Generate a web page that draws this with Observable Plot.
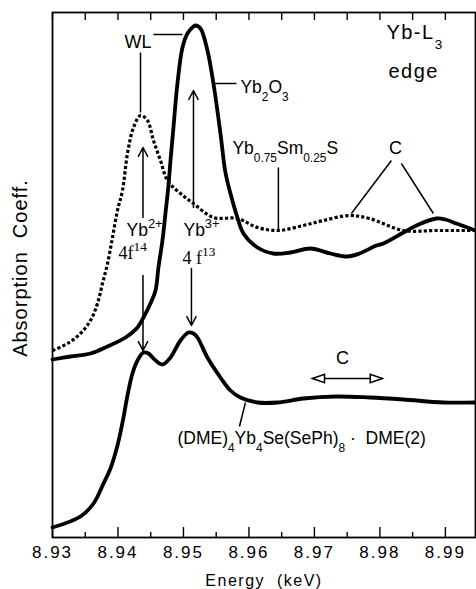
<!DOCTYPE html>
<html><head><meta charset="utf-8">
<script src="https://cdn.jsdelivr.net/npm/d3@7"></script>
<script src="https://cdn.jsdelivr.net/npm/@observablehq/plot@0.6"></script>
<style>
html,body{margin:0;padding:0;background:#fff;}
#chart svg{display:block;}
</style></head><body><div id="chart"></div>
<script>
// ---- data (energy in keV, absorption in arbitrary units) ----
const energyYb2O3 = [8.93000, 8.93275, 8.93580, 8.93840, 8.94115, 8.94298, 8.94389, 8.94496, 8.94573, 8.94618, 8.94679, 8.94725, 8.94771, 8.94802, 8.94847, 8.94908, 8.94985, 8.95061, 8.95153, 8.95183, 8.95260, 8.95366, 8.95458, 8.95565, 8.95641, 8.95718, 8.95824, 8.95916, 8.96130, 8.96374, 8.96634, 8.96939, 8.97244, 8.97504, 8.97687, 8.97947, 8.98053, 8.98359, 8.98557, 8.98863, 8.99000, 8.99168, 8.99458];
const absYb2O3 = [1.78, 1.81, 1.84, 1.91, 2.00, 2.10, 2.20, 2.34, 2.47, 2.70, 2.97, 3.24, 3.52, 3.77, 4.10, 4.54, 4.90, 5.04, 5.11, 5.12, 5.09, 4.87, 4.54, 4.04, 3.65, 3.44, 3.20, 3.04, 2.90, 2.84, 2.85, 2.89, 2.84, 2.81, 2.84, 2.92, 2.94, 3.05, 3.12, 3.19, 3.18, 3.14, 3.07];

const energyYbSmS = [8.93000, 8.93229, 8.93427, 8.93580, 8.93687, 8.93763, 8.93840, 8.93916, 8.93992, 8.94069, 8.94145, 8.94237, 8.94344, 8.94450, 8.94542, 8.94649, 8.94756, 8.94954, 8.95153, 8.95458, 8.95824, 8.96130, 8.96450, 8.96832, 8.97137, 8.97534, 8.97840, 8.98359, 8.98863, 8.99458];
const absYbSmS = [1.87, 1.94, 2.04, 2.17, 2.34, 2.54, 2.74, 3.00, 3.27, 3.47, 3.84, 4.10, 4.22, 4.17, 3.97, 3.77, 3.57, 3.44, 3.34, 3.20, 3.19, 3.10, 3.07, 3.12, 3.17, 3.22, 3.19, 3.07, 3.07, 3.07];

const energyDME = [8.93000, 8.93427, 8.93626, 8.93779, 8.93885, 8.93992, 8.94084, 8.94145, 8.94221, 8.94298, 8.94389, 8.94466, 8.94542, 8.94679, 8.94802, 8.94954, 8.95076, 8.95153, 8.95214, 8.95366, 8.95565, 8.95718, 8.95870, 8.96130, 8.96435, 8.96832, 8.97336, 8.97840, 8.98359, 8.98969, 8.99458];
const absDME = [0.10, 0.21, 0.34, 0.54, 0.69, 0.92, 1.20, 1.42, 1.64, 1.77, 1.85, 1.84, 1.79, 1.73, 1.80, 1.97, 2.05, 2.04, 2.00, 1.80, 1.60, 1.47, 1.40, 1.35, 1.35, 1.39, 1.41, 1.40, 1.38, 1.35, 1.35];

const majorTicks = [8.93, 8.94, 8.95, 8.96, 8.97, 8.98, 8.99];
const minorTicks = [8.935, 8.945, 8.955, 8.965, 8.975, 8.985];
const tickLabels = ["8.93", "8.94", "8.95", "8.96", "8.97", "8.98", "8.99"];
const xTitle = "Energy  (keV)";
const yTitle = "Absorption  Coeff.";

// annotation texts anchored in data units (x: keV, y: absorption)
const labelsCentered = [
  {text: "WL", x: 8.94305, y: 4.90},
  {text: "C", x: 8.98237, y: 3.84},
  {text: "C", x: 8.97427, y: 1.74}
];
const labelsStart = [
  {text: "Yb^{2+}", x: 8.94130, y: 3.02},
  {text: "Yb^{3+}", x: 8.95000, y: 3.02},
  {text: "Yb_{2}O_{3}", x: 8.95870, y: 4.45},
  {text: "Yb_{0.75}Sm_{0.25}S", x: 8.95748, y: 3.84},
  {text: "(DME)_{4}Yb_{4}Se(SePh)_{8} ·  DME(2)", x: 8.94908, y: 0.94}
];
const labelsSerif = [
  {text: "4f^{14}", x: 8.94008, y: 2.79},
  {text: "4 f^{13}", x: 8.94985, y: 2.74}
];
const labelsEdge = [
  {text: "Yb-L_{3}", x: 8.98099, y: 4.99},
  {text: "edge", x: 8.98130, y: 4.60}
];
const leaderLines = [
  {x1: 8.94344, y1: 4.85, x2: 8.94344, y2: 4.25},
  {x1: 8.94542, y1: 5.03, x2: 8.94985, y2: 5.03},
  {x1: 8.95458, y1: 4.54, x2: 8.95809, y2: 4.54},
  {x1: 8.96450, y1: 3.70, x2: 8.96450, y2: 3.07},
  {x1: 8.98176, y1: 3.77, x2: 8.97565, y2: 3.24},
  {x1: 8.98328, y1: 3.74, x2: 8.98817, y2: 3.24},
  {x1: 8.95947, y1: 1.35, x2: 8.95855, y2: 1.11}
];
const arrows = [
  {x1: 8.94382, y1: 3.20, x2: 8.94382, y2: 3.90},
  {x1: 8.94382, y1: 2.62, x2: 8.94382, y2: 1.87},
  {x1: 8.95153, y1: 3.30, x2: 8.95153, y2: 4.47},
  {x1: 8.95122, y1: 2.69, x2: 8.95122, y2: 2.12}
];
const doubleArrow = {x1: 8.96969, x2: 8.98038, y: 1.59};

// ---- helpers ----
const rows = (xs, ys) => xs.map((x, i) => ({x, y: ys[i]}));
const SANS = '"Liberation Sans", Arial, Helvetica, sans-serif';
const SERIF = '"Liberation Serif", "Times New Roman", serif';
const openHead = {
  draw(ctx, size) {
    const r = Math.sqrt(size / Math.PI);
    ctx.moveTo(0, -1.6 * r);
    ctx.lineTo(0.95 * r, 1.1 * r);
    ctx.lineTo(-0.95 * r, 1.1 * r);
    ctx.closePath();
  }
};

const svg = Plot.plot({
  width: 476,
  height: 589,
  marginTop: 12,
  marginBottom: 52,
  marginLeft: 52,
  marginRight: 1,
  x: {domain: [8.93, 8.9946], axis: null},
  y: {domain: [0, 5.25], axis: null},
  style: {fontFamily: SANS, background: "white", color: "black", overflow: "visible"},
  marks: [
    // ticks (inward)
    Plot.axisX(majorTicks, {anchor: "bottom", tickSize: -10, tickFormat: () => "", label: null, strokeWidth: 1.4}),
    Plot.axisX(minorTicks, {anchor: "bottom", tickSize: -5, tickFormat: () => "", label: null, strokeWidth: 1.4}),
    Plot.axisX(majorTicks.concat(minorTicks), {anchor: "top", tickSize: -7, tickFormat: () => "", label: null, strokeWidth: 1.4}),
    Plot.frame({stroke: "black", strokeWidth: 1.8}),
    // tick labels and titles
    Plot.text(majorTicks, {x: d => d, frameAnchor: "bottom", lineAnchor: "bottom", dy: 20, text: (d, i) => tickLabels[i], fontSize: 17}),
    Plot.text([xTitle], {frameAnchor: "bottom", lineAnchor: "bottom", textAnchor: "middle", dy: 48, fontSize: 16}),
    Plot.text([yTitle], {frameAnchor: "left", textAnchor: "middle", lineAnchor: "middle", rotate: -90, dx: -32, dy: -7, fontSize: 20}),
    // curves
    Plot.line(rows(energyYbSmS, absYbSmS), {x: "x", y: "y", curve: "catmull-rom", stroke: "black", strokeWidth: 3.2, strokeDasharray: "3.2,2.2", strokeLinecap: "butt"}),
    Plot.line(rows(energyYb2O3, absYb2O3), {x: "x", y: "y", curve: "catmull-rom", stroke: "black", strokeWidth: 3.8}),
    Plot.line(rows(energyDME, absDME), {x: "x", y: "y", curve: "catmull-rom", stroke: "black", strokeWidth: 3.8}),
    // annotations
    Plot.link(leaderLines, {x1: "x1", y1: "y1", x2: "x2", y2: "y2", stroke: "black", strokeWidth: 1.5}),
    Plot.arrow(arrows, {x1: "x1", y1: "y1", x2: "x2", y2: "y2", stroke: "black", strokeWidth: 1.5, headLength: 10, headAngle: 55}),
    Plot.link([doubleArrow], {x1: "x1", x2: "x2", y1: "y", y2: "y", stroke: "black", strokeWidth: 1.5}),
    Plot.dot([doubleArrow], {x: "x1", y: "y", symbol: openHead, r: 4.5, rotate: -90, dx: 7.2, fill: "white", stroke: "black", strokeWidth: 1.5}),
    Plot.dot([doubleArrow], {x: "x2", y: "y", symbol: openHead, r: 4.5, rotate: 90, dx: -7.2, fill: "white", stroke: "black", strokeWidth: 1.5}),
    Plot.text(labelsCentered, {x: "x", y: "y", text: "text", textAnchor: "middle", lineAnchor: "bottom", fontSize: 18}),
    Plot.text(labelsStart, {x: "x", y: "y", text: "text", textAnchor: "start", lineAnchor: "bottom", fontSize: 17.5}),
    Plot.text(labelsSerif, {x: "x", y: "y", text: "text", textAnchor: "start", lineAnchor: "bottom", fontSize: 18, fontFamily: SERIF}),
    Plot.text(labelsEdge, {x: "x", y: "y", text: "text", textAnchor: "start", lineAnchor: "bottom", fontSize: 20})
  ]
});

document.getElementById("chart").append(svg);

// ---- rich text (sub/superscripts) and spacing post-processing ----
const NS = "http://www.w3.org/2000/svg";
function richify(t) {
  const s = t.textContent;
  if (!/[_^]\{/.test(s)) return;
  const F = parseFloat(getComputedStyle(t).fontSize) || 16;
  t.textContent = "";
  const re = /([_^])\{([^}]*)\}|([^_^]+)/g;
  let m, shift = 0;
  while ((m = re.exec(s))) {
    const ts = document.createElementNS(NS, "tspan");
    let target;
    if (m[3] !== undefined) { ts.textContent = m[3]; target = 0; }
    else {
      ts.textContent = m[2];
      const sup = m[1] === "^";
      ts.setAttribute("font-size", ((sup ? 0.74 : 0.68) * F).toFixed(2));
      target = sup ? -0.42 * F : 0.5 * F;
    }
    const d = target - shift;
    if (d !== 0) ts.setAttribute("dy", d.toFixed(2));
    shift = target;
    t.appendChild(ts);
  }
}
svg.querySelectorAll("text").forEach(t => {
  const s = t.textContent;
  t.style.whiteSpace = "pre";
  if (tickLabels.includes(s)) t.style.letterSpacing = "2px";
  if (s === xTitle) t.style.letterSpacing = "1.5px";
  if (s === yTitle) t.style.letterSpacing = "1px";
  if (s === "edge" || s.startsWith("Yb-L")) t.style.letterSpacing = "1.5px";
  richify(t);
});
</script>
</body></html>
